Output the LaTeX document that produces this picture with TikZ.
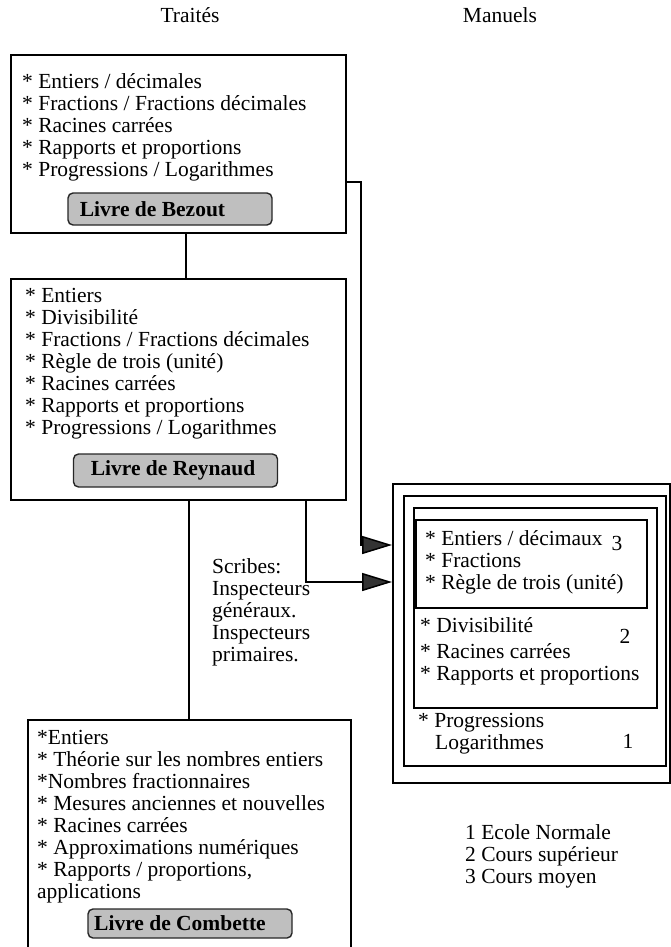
\documentclass[tikz,border=0pt]{standalone}
\usepackage{fontspec}
\setmainfont{Liberation Serif}
\usetikzlibrary{arrows.meta}

\begin{document}
\begin{tikzpicture}[x=1pt, y=-1pt, >={Triangle[length=30pt,width=18pt,fill=black!80]},
    cadre/.style={draw, line width=1.6pt, inner sep=0pt, anchor=north west},
    liste/.style={anchor=north west, inner sep=0pt, align=left, font=\fontsize{21.5}{22}\selectfont},
    bouton/.style={draw=black!85, line width=1.4pt, rounded corners=5pt, fill=gray!50, inner sep=0pt,
        minimum width=204pt, font=\fontsize{21.5}{22}\selectfont\bfseries},
    lien/.style={line width=1.5pt},
    fleche/.style={->, line width=1.5pt}]
    \clip (0,0) rectangle (671,947);

    % titles
    \node[anchor=base, font=\fontsize{21.5}{22}\selectfont] (traites) at (190,23) {Traités};
    \node[anchor=base, font=\fontsize{21.5}{22}\selectfont] (manuels) at (500,23) {Manuels};

    % Bezout
    \node[cadre, minimum width=335pt, minimum height=178pt] (bezout) at (10,54) {};
    \node[liste] (lbezout) at (22,73) {* Entiers / décimales\\ * Fractions / Fractions décimales\\
        * Racines carrées\\ * Rapports et proportions\\ * Progressions / Logarithmes};
    \node[bouton, minimum height=32pt] (bbezout) at (170,209) {Livre de Bezout\hspace*{35pt}};

    % Reynaud
    \node[cadre, minimum width=335pt, minimum height=221pt] (reynaud) at (10,278) {};
    \node[liste] (lreynaud) at (25,288) {* Entiers\\ * Divisibilité\\ * Fractions / Fractions décimales\\
        * Règle de trois (unité)\\ * Racines carrées\\ * Rapports et proportions\\ * Progressions / Logarithmes};
    \node[bouton, minimum height=33pt] (breynaud) at (175.5,470.5) {Livre de Reynaud\hspace*{5pt}};

    % Combette
    \node[cadre, minimum width=323pt, minimum height=240pt] (combette) at (27,719) {};
    \node[liste] (lcombette) at (37,730) {*Entiers\\ * Théorie sur les nombres entiers\\ *Nombres fractionnaires\\
        * Mesures anciennes et nouvelles\\ * Racines carrées\\ * Approximations numériques\\
        * Rapports / proportions,\\ applications};
    \node[bouton, minimum height=29pt] (bcombette) at (190,923.5) {Livre de Combette\hspace*{20pt}};

    % scribes
    \node[liste] (scribes) at (212,558) {Scribes:\\ Inspecteurs\\ généraux.\\ Inspecteurs\\ primaires.};

    % manuels, nested frames
    \node[cadre, minimum width=277pt, minimum height=299pt] (cadre) at (392,483) {};
    \node[cadre, minimum width=262pt, minimum height=270pt] (ecole) at (403,495) {};
    \node[cadre, minimum width=243pt, minimum height=200pt] (superieur) at (413,507) {};
    \node[cadre, minimum width=231pt, minimum height=88pt] (moyen) at (415,519) {};

    % cours moyen
    \node[liste] (lmoyen) at (425,530) {* Entiers / décimaux\\ * Fractions\\ * Règle de trois (unité)};
    \node[anchor=base, font=\fontsize{21.5}{22}\selectfont] (n3) at (617,550) {3};

    % cours superieur
    \node[liste] (lsuperieur) at (420,617) {* Divisibilité\\[4pt] * Racines carrées\\ * Rapports et proportions};
    \node[anchor=base, font=\fontsize{21.5}{22}\selectfont] (n2) at (625,643) {2};

    % ecole normale
    \node[liste] (lecole) at (418,713) {* Progressions\\ \hspace*{17pt}Logarithmes};
    \node[anchor=base, font=\fontsize{21.5}{22}\selectfont] (n1) at (628,748) {1};

    % legend
    \node[liste] (legende) at (465,824) {1 Ecole Normale\\ 2 Cours supérieur\\ 3 Cours moyen};

    % links between the books
    \coordinate (x1) at (186,0);
    \coordinate (x2) at (189,0);
    \draw[lien] (bezout.south -| x1) -- (reynaud.north -| x1);
    \draw[lien] (reynaud.south -| x2) -- (combette.north -| x2);

    % arrows to the manuels
    \coordinate (k1) at (361,182);
    \coordinate (y1) at (0,545);
    \coordinate (x3) at (306,0);
    \coordinate (y2) at (0,582);
    \draw[fleche] (bezout.east |- k1) -- (k1) |- (cadre.west |- y1);
    \draw[fleche] (reynaud.south -| x3) |- (cadre.west |- y2);
\end{tikzpicture}
\end{document}
